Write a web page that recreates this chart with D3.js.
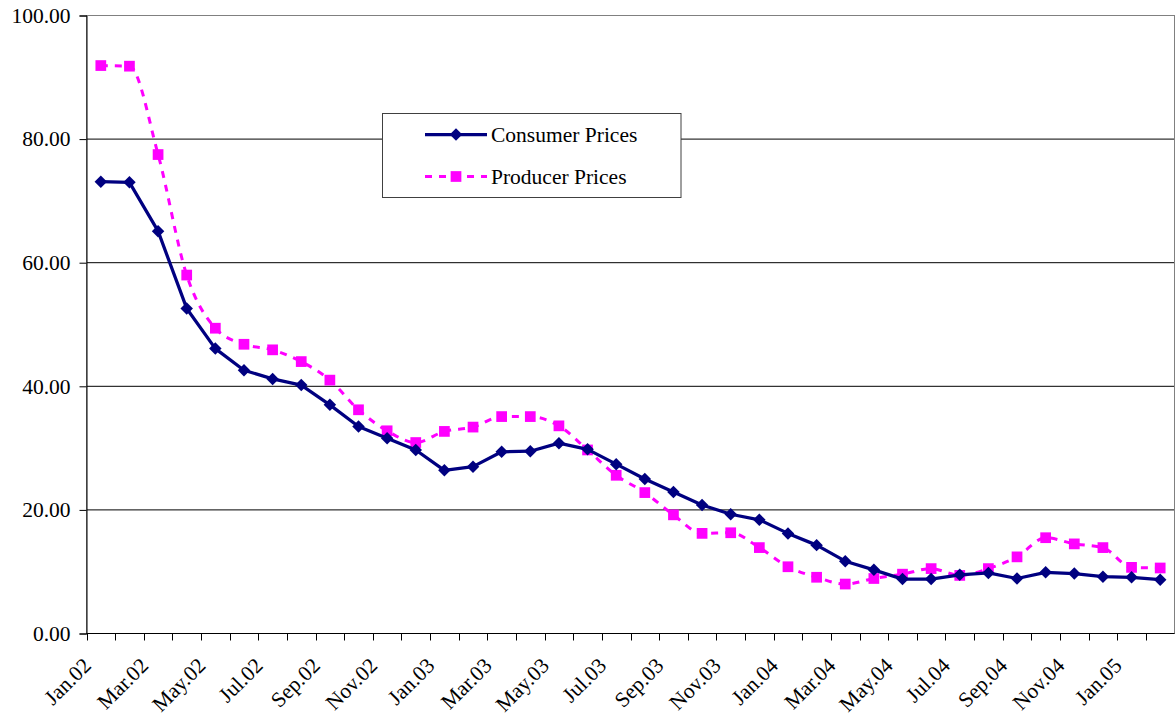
<!DOCTYPE html>
<html>
<head>
<meta charset="utf-8">
<script src="https://cdn.jsdelivr.net/npm/d3@7/dist/d3.min.js"></script>
<style>
  html, body { margin: 0; padding: 0; background: #fff; }
  svg { display: block; }
  text { font-family: "Liberation Serif", "Times New Roman", serif; fill: #000; }
</style>
</head>
<body>
<svg id="chart" width="1175" height="717"></svg>
<script>
// Monthly categories, Jan 2002 – Feb 2005
const months = [
  "Jan.02","Feb.02","Mar.02","Apr.02","May.02","Jun.02","Jul.02","Aug.02","Sep.02","Oct.02","Nov.02","Dec.02",
  "Jan.03","Feb.03","Mar.03","Apr.03","May.03","Jun.03","Jul.03","Aug.03","Sep.03","Oct.03","Nov.03","Dec.03",
  "Jan.04","Feb.04","Mar.04","Apr.04","May.04","Jun.04","Jul.04","Aug.04","Sep.04","Oct.04","Nov.04","Dec.04",
  "Jan.05","Feb.05"
];

const consumerPrices = [
  73.1, 73.0, 65.1, 52.6, 46.1, 42.6, 41.2, 40.2, 37.0, 33.5, 31.6, 29.7,
  26.4, 27.0, 29.4, 29.5, 30.8, 29.8, 27.4, 25.0, 22.9, 20.8, 19.3, 18.4,
  16.2, 14.3, 11.7, 10.3, 8.8, 8.8, 9.5, 9.8, 8.9, 9.9, 9.7, 9.2,
  9.1, 8.7
];

const producerPrices = [
  91.9, 91.8, 77.5, 58.0, 49.4, 46.8, 45.9, 44.0, 41.0, 36.2, 32.8, 30.9,
  32.7, 33.4, 35.1, 35.1, 33.6, 29.7, 25.6, 22.8, 19.2, 16.2, 16.3, 13.9,
  10.8, 9.1, 8.0, 8.9, 9.6, 10.5, 9.4, 10.5, 12.4, 15.5, 14.5, 13.9,
  10.7, 10.6
];

const yTicks = [0, 20, 40, 60, 80, 100];

const seriesNames = ["Consumer Prices", "Producer Prices"];

// Layout
const plot = { left: 86.5, right: 1174.5, top: 15.5, bottom: 633.5 };
const navy = "#000080";
const magenta = "#FF00FF";
const fontFamily = '"Liberation Serif", "Times New Roman", serif';

const svg = d3.select("#chart");

const x = d3.scaleBand().domain(months).range([plot.left, plot.right]).padding(0);
const y = d3.scaleLinear().domain([0, 100]).range([plot.bottom, plot.top]);
const cx = d => x(d) + x.bandwidth() / 2;

// Horizontal gridlines
svg.append("g")
  .selectAll("line")
  .data(yTicks.filter(t => t > 0 && t < 100))
  .join("line")
  .attr("x1", plot.left).attr("x2", plot.right)
  .attr("y1", d => y(d)).attr("y2", d => y(d))
  .attr("stroke", "#000").attr("stroke-width", 1);

// Plot area border
svg.append("rect")
  .attr("x", plot.left).attr("y", plot.top)
  .attr("width", plot.right - plot.left).attr("height", plot.bottom - plot.top)
  .attr("fill", "none").attr("stroke", "#808080").attr("stroke-width", 1);

// Y axis
const yAxis = d3.axisLeft(y)
  .tickValues(yTicks)
  .tickFormat(d3.format(".2f"))
  .tickSize(7)
  .tickPadding(9);
const gy = svg.append("g").attr("transform", `translate(${plot.left},0)`).call(yAxis)
  .attr("font-family", fontFamily).attr("font-size", 21.5);
gy.select(".domain").attr("stroke", "#000").attr("stroke-width", 1);
gy.selectAll(".tick line").attr("stroke", "#000");
gy.selectAll(".tick text").attr("fill", "#000");

// X axis: tick marks on category boundaries
const boundaries = months.map(m => x(m)).concat([plot.right]);
const gx = svg.append("g").attr("font-family", fontFamily).attr("font-size", 21.5);
gx.append("line")
  .attr("x1", plot.left).attr("x2", plot.right)
  .attr("y1", plot.bottom).attr("y2", plot.bottom)
  .attr("stroke", "#000").attr("stroke-width", 1);
gx.selectAll("line.tick")
  .data(boundaries)
  .join("line")
  .attr("class", "tick")
  .attr("x1", d => Math.round(d) + 0.5).attr("x2", d => Math.round(d) + 0.5)
  .attr("y1", plot.bottom).attr("y2", plot.bottom + 7)
  .attr("stroke", "#000").attr("stroke-width", 1);

// Rotated month labels, every second month
gx.selectAll("text")
  .data(months.filter((m, i) => i % 2 === 0))
  .join("text")
  .attr("transform", d => `translate(${cx(d) - 8.5},${plot.bottom + 33.5}) rotate(-45)`)
  .attr("text-anchor", "end")
  .text(d => d);

// Producer prices: smoothed dashed line with square markers
const producerLine = d3.line()
  .x((d, i) => cx(months[i]))
  .y(d => y(d))
  .curve(d3.curveMonotoneX);

svg.append("path")
  .datum(producerPrices)
  .attr("d", producerLine)
  .attr("fill", "none")
  .attr("stroke", magenta)
  .attr("stroke-width", 3)
  .attr("stroke-dasharray", "7,7");

const squareSym = d3.symbol().type(d3.symbolSquare).size(115);
svg.append("g")
  .selectAll("path")
  .data(producerPrices)
  .join("path")
  .attr("transform", (d, i) => `translate(${cx(months[i])},${y(d)})`)
  .attr("d", squareSym)
  .attr("fill", magenta);

// Consumer prices: straight line with diamond markers
const consumerLine = d3.line()
  .x((d, i) => cx(months[i]))
  .y(d => y(d));

svg.append("path")
  .datum(consumerPrices)
  .attr("d", consumerLine)
  .attr("fill", "none")
  .attr("stroke", navy)
  .attr("stroke-width", 3.25)
  .attr("stroke-linejoin", "round");

const diamondSym = d3.symbol().type(d3.symbolSquare).size(78);
svg.append("g")
  .selectAll("path")
  .data(consumerPrices)
  .join("path")
  .attr("transform", (d, i) => `translate(${cx(months[i])},${y(d)}) rotate(45)`)
  .attr("d", diamondSym)
  .attr("fill", navy);

// Legend
const legend = svg.append("g").attr("font-family", fontFamily).attr("font-size", 21.5);
legend.append("rect")
  .attr("x", 382.5).attr("y", 113.5)
  .attr("width", 298.5).attr("height", 84)
  .attr("fill", "#fff").attr("stroke", "#404040").attr("stroke-width", 1);

const legendRows = [
  { name: seriesNames[0], color: navy, dash: null, sym: diamondSym, rot: 45, width: 3.25, cy: 134.5 },
  { name: seriesNames[1], color: magenta, dash: "7,7", sym: squareSym, rot: 0, width: 3, cy: 176.5 }
];
legendRows.forEach(r => {
  legend.append("line")
    .attr("x1", 425).attr("x2", 487)
    .attr("y1", r.cy).attr("y2", r.cy)
    .attr("stroke", r.color).attr("stroke-width", r.width)
    .attr("stroke-dasharray", r.dash);
  legend.append("path")
    .attr("transform", `translate(456,${r.cy}) rotate(${r.rot})`)
    .attr("d", r.sym)
    .attr("fill", r.color);
  legend.append("text")
    .attr("x", 491).attr("y", r.cy + 7.5)
    .text(r.name);
});
</script>
</body>
</html>
